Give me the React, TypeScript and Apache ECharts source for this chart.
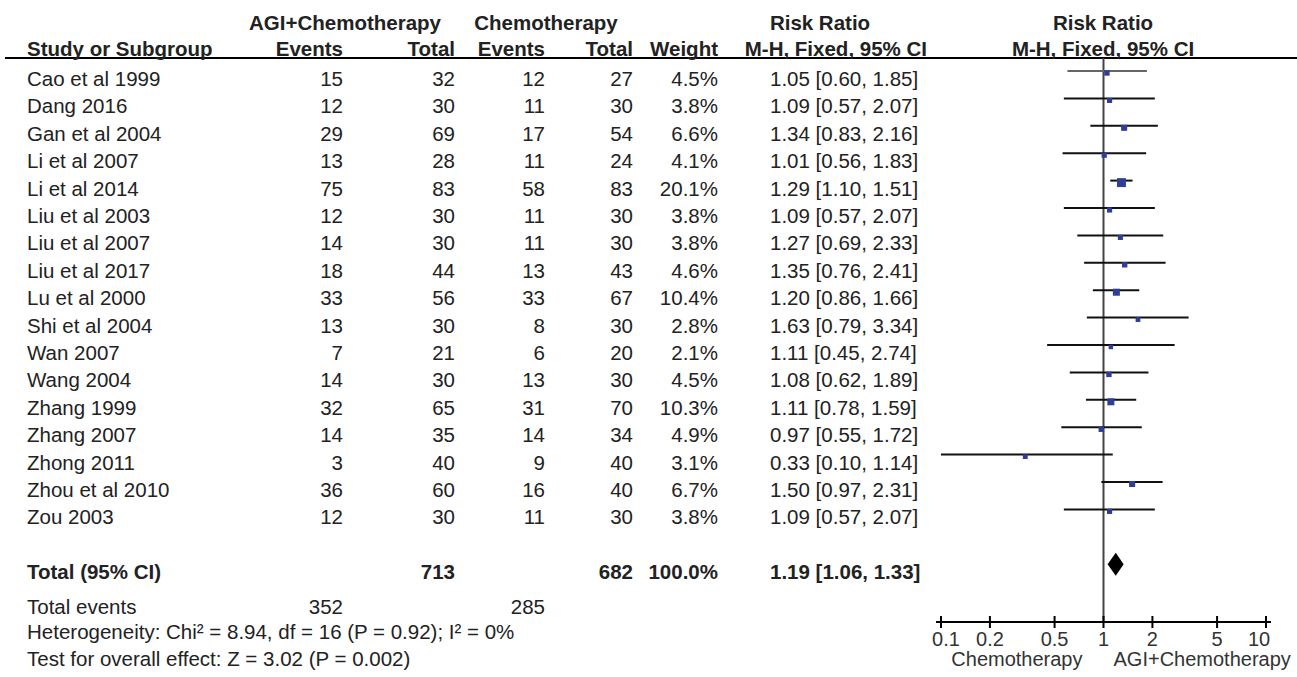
import React, { useEffect, useRef } from "react";
import * as echarts from "echarts";

// ---------- data ----------
const studies = [
  "Cao et al 1999", "Dang 2016", "Gan et al 2004", "Li et al 2007", "Li et al 2014",
  "Liu et al 2003", "Liu et al 2007", "Liu et al 2017", "Lu et al 2000", "Shi et al 2004",
  "Wan 2007", "Wang 2004", "Zhang 1999", "Zhang 2007", "Zhong 2011", "Zhou et al 2010", "Zou 2003",
];
const agiEvents = [15, 12, 29, 13, 75, 12, 14, 18, 33, 13, 7, 14, 32, 14, 3, 36, 12];
const agiTotal = [32, 30, 69, 28, 83, 30, 30, 44, 56, 30, 21, 30, 65, 35, 40, 60, 30];
const chemoEvents = [12, 11, 17, 11, 58, 11, 11, 13, 33, 8, 6, 13, 31, 14, 9, 16, 11];
const chemoTotal = [27, 30, 54, 24, 83, 30, 30, 43, 67, 30, 20, 30, 70, 34, 40, 40, 30];
const weights = [4.5, 3.8, 6.6, 4.1, 20.1, 3.8, 3.8, 4.6, 10.4, 2.8, 2.1, 4.5, 10.3, 4.9, 3.1, 6.7, 3.8];
const riskRatio = [1.05, 1.09, 1.34, 1.01, 1.29, 1.09, 1.27, 1.35, 1.2, 1.63, 1.11, 1.08, 1.11, 0.97, 0.33, 1.5, 1.09];
const ciLower = [0.6, 0.57, 0.83, 0.56, 1.1, 0.57, 0.69, 0.76, 0.86, 0.79, 0.45, 0.62, 0.78, 0.55, 0.1, 0.97, 0.57];
const ciUpper = [1.85, 2.07, 2.16, 1.83, 1.51, 2.07, 2.33, 2.41, 1.66, 3.34, 2.74, 1.89, 1.59, 1.72, 1.14, 2.31, 2.07];

const totalAgi = 713;
const totalChemo = 682;
const totalWeight = 100.0;
const pooled = [1.19, 1.06, 1.33]; // estimate, lower, upper
const totalEvents = [352, 285];
const heterogeneityText = "Heterogeneity: Chi² = 8.94, df = 16 (P = 0.92); I² = 0%";
const overallText = "Test for overall effect: Z = 3.02 (P = 0.002)";
const tickValues = [0.1, 0.2, 0.5, 1, 2, 5, 10];
const favoursLeft = "Chemotherapy";
const favoursRight = "AGI+Chemotherapy";

// ---------- layout ----------
const W = 1297;
const H = 677;
const ROW_H = 27.4;
const ROW0 = 71; // pixel of first row line
const AXIS_Y = 622;
const FONT = '"Liberation Sans", Arial, Helvetica, sans-serif';
const FS = 20.5;
const TXT = "#222";
const TOTAL_ROW = 18;
const FOOT_ROWS = [19.27, 20.2, 21.15];

const COL = {
  study: 27,
  agiEv: 343,
  agiTot: 455,
  chEv: 545,
  chTot: 633,
  weight: 718,
  ci: 770,
  ciRight: 927,
  plot: 1103,
};

const fmt2 = (v: number) => v.toFixed(2);
const ciText = (e: number, l: number, u: number) => `${fmt2(e)} [${fmt2(l)}, ${fmt2(u)}]`;

function txt(text: string, x: number, y: number, align: string, bold = false, size = FS, fill = TXT) {
  return {
    type: "text",
    x,
    y,
    style: {
      text,
      x: 0,
      y: 0,
      fill,
      align,
      verticalAlign: "middle",
      fontSize: size,
      fontFamily: FONT,
      fontWeight: bold ? "bold" : "normal",
    },
  };
}

export default function App() {
  const ref = useRef<HTMLDivElement>(null);

  useEffect(() => {
    if (!ref.current) return;
    const chart = echarts.init(ref.current, null, { renderer: "svg", width: W, height: H });

    const yMin = (0 - ROW0) / ROW_H;
    const yMax = (AXIS_Y - ROW0) / ROW_H;
    const xMin = tickValues[0];
    const xMax = tickValues[tickValues.length - 1];

    const rows = studies.map((_, i) => [riskRatio[i], i, ciLower[i], ciUpper[i], weights[i]]);
    const tableRows = studies.map((_, i) => [1, i]);

    const option: any = {
      animation: false,
      backgroundColor: "#fff",
      grid: { left: 941, width: 325, top: 0, height: AXIS_Y, containLabel: false },
      xAxis: {
        type: "log",
        logBase: 10,
        min: xMin,
        max: xMax,
        position: "bottom",
        axisLine: { show: false },
        axisTick: { show: false },
        axisLabel: { show: false },
        splitLine: { show: false },
      },
      yAxis: {
        type: "value",
        inverse: true,
        min: yMin,
        max: yMax,
        show: false,
        splitLine: { show: false },
      },
      graphic: [
        { type: "line", shape: { x1: 5, y1: 58, x2: W, y2: 58 }, style: { stroke: "#000", lineWidth: 2 } },
        txt("AGI+Chemotherapy", 345, 22, "center", true),
        txt("Chemotherapy", 546, 22, "center", true),
        txt("Risk Ratio", 820, 22, "center", true),
        txt("Risk Ratio", COL.plot, 22, "center", true),
        txt("Study or Subgroup", COL.study, 48.5, "left", true),
        txt("Events", COL.agiEv, 48.5, "right", true),
        txt("Total", COL.agiTot, 48.5, "right", true),
        txt("Events", COL.chEv, 48.5, "right", true),
        txt("Total", COL.chTot, 48.5, "right", true),
        txt("Weight", COL.weight, 48.5, "right", true),
        txt("M-H, Fixed, 95% CI", COL.ciRight, 48.5, "right", true),
        txt("M-H, Fixed, 95% CI", COL.plot, 48.5, "center", true),
      ],
      series: [
        // null line at RR = 1
        {
          type: "custom",
          name: "null",
          data: [[1, -0.474]],
          silent: true,
          renderItem: (params: any, api: any) => {
            const top = api.coord([1, api.value(1)]);
            const bot = api.coord([1, yMax]);
            return {
              type: "line",
              shape: { x1: top[0], y1: top[1], x2: bot[0], y2: bot[1] },
              style: { stroke: "#444", lineWidth: 2 },
            };
          },
        },
        // table rows
        {
          type: "custom",
          name: "table",
          data: tableRows,
          silent: true,
          renderItem: (params: any, api: any) => {
            const i = params.dataIndex;
            const y = api.coord([1, api.value(1)])[1] + 7.5;
            return {
              type: "group",
              children: [
                txt(studies[i], COL.study, y, "left"),
                txt(String(agiEvents[i]), COL.agiEv, y, "right"),
                txt(String(agiTotal[i]), COL.agiTot, y, "right"),
                txt(String(chemoEvents[i]), COL.chEv, y, "right"),
                txt(String(chemoTotal[i]), COL.chTot, y, "right"),
                txt(weights[i].toFixed(1) + "%", COL.weight, y, "right"),
                txt(ciText(riskRatio[i], ciLower[i], ciUpper[i]), COL.ci, y, "left"),
              ],
            };
          },
        },
        // totals and footer
        {
          type: "custom",
          name: "totals",
          data: [[1, TOTAL_ROW]],
          silent: true,
          renderItem: (params: any, api: any) => {
            const yT = api.coord([1, TOTAL_ROW])[1] + 7.5;
            const y1 = api.coord([1, FOOT_ROWS[0]])[1] + 7.5;
            const y2 = api.coord([1, FOOT_ROWS[1]])[1] + 7.5;
            const y3 = api.coord([1, FOOT_ROWS[2]])[1] + 7.5;
            return {
              type: "group",
              children: [
                txt("Total (95% CI)", COL.study, yT, "left", true),
                txt(String(totalAgi), COL.agiTot, yT, "right", true),
                txt(String(totalChemo), COL.chTot, yT, "right", true),
                txt(totalWeight.toFixed(1) + "%", COL.weight, yT, "right", true),
                txt(ciText(pooled[0], pooled[1], pooled[2]), COL.ci, yT, "left", true),
                txt("Total events", COL.study, y1, "left"),
                txt(String(totalEvents[0]), COL.agiEv, y1, "right"),
                txt(String(totalEvents[1]), COL.chEv, y1, "right"),
                txt(heterogeneityText, COL.study, y2, "left"),
                txt(overallText, COL.study, y3, "left"),
              ],
            };
          },
        },
        // study estimates
        {
          type: "custom",
          name: "studies",
          data: rows,
          silent: true,
          renderItem: (params: any, api: any) => {
            const row = api.value(1);
            const c = api.coord([api.value(0), row]);
            const lo = api.coord([api.value(2), row]);
            const hi = api.coord([api.value(3), row]);
            const s = 2.2 + 1.5 * Math.sqrt(api.value(4));
            return {
              type: "group",
              children: [
                {
                  type: "line",
                  shape: { x1: lo[0], y1: lo[1], x2: hi[0], y2: hi[1] },
                  style: { stroke: params.dataIndex === 0 ? "#666" : "#111", lineWidth: 2 },
                },
                {
                  type: "rect",
                  shape: { x: c[0] - s / 2, y: c[1] + 2 - s / 2, width: s, height: s },
                  style: { fill: "#2e3d98" },
                },
              ],
            };
          },
        },
        // pooled diamond
        {
          type: "custom",
          name: "pooled",
          data: [[pooled[0], TOTAL_ROW, pooled[1], pooled[2]]],
          silent: true,
          renderItem: (params: any, api: any) => {
            const row = api.value(1);
            const c = api.coord([api.value(0), row]);
            const lo = api.coord([api.value(2), row]);
            const hi = api.coord([api.value(3), row]);
            const h = 11.5;
            return {
              type: "polygon",
              shape: {
                points: [
                  [lo[0], c[1]],
                  [c[0], c[1] - h],
                  [hi[0], c[1]],
                  [c[0], c[1] + h],
                ],
              },
              style: { fill: "#000" },
            };
          },
        },
        // axis line, ticks and labels
        {
          type: "custom",
          name: "axis",
          data: [[xMin, yMax, xMax]],
          silent: true,
          renderItem: (params: any, api: any) => {
            const a = api.coord([api.value(0), api.value(1)]);
            const b = api.coord([api.value(2), api.value(1)]);
            return {
              type: "line",
              shape: { x1: a[0] - 5, y1: a[1], x2: b[0] + 5, y2: b[1] },
              style: { stroke: "#000", lineWidth: 2 },
            };
          },
        },
        {
          type: "custom",
          name: "ticks",
          data: tickValues.map((v) => [v, yMax]),
          silent: true,
          renderItem: (params: any, api: any) => {
            const v = api.value(0);
            const p = api.coord([v, api.value(1)]);
            const shift = v === xMin ? 5 : v === xMax ? -7 : 0;
            return {
              type: "group",
              children: [
                {
                  type: "line",
                  shape: { x1: p[0], y1: p[1] - 6, x2: p[0], y2: p[1] + 6 },
                  style: { stroke: "#000", lineWidth: 2 },
                },
                txt(String(v), p[0] + shift, p[1] + 17, "center", false, 20, "#333"),
              ],
            };
          },
        },
        // favours labels
        {
          type: "custom",
          name: "favours",
          data: [[1, yMax]],
          silent: true,
          renderItem: (params: any, api: any) => {
            const p = api.coord([1, api.value(1)]);
            return {
              type: "group",
              children: [
                txt(favoursLeft, p[0] - 21, p[1] + 37, "right", false, 20, "#333"),
                txt(favoursRight, p[0] + 10, p[1] + 37, "left", false, 20, "#333"),
              ],
            };
          },
        },
      ],
    };

    chart.setOption(option);
    return () => chart.dispose();
  }, []);

  return (
    <div
      ref={ref}
      style={{ position: "fixed", left: 0, top: 0, width: W, height: H, background: "#fff" }}
    />
  );
}
